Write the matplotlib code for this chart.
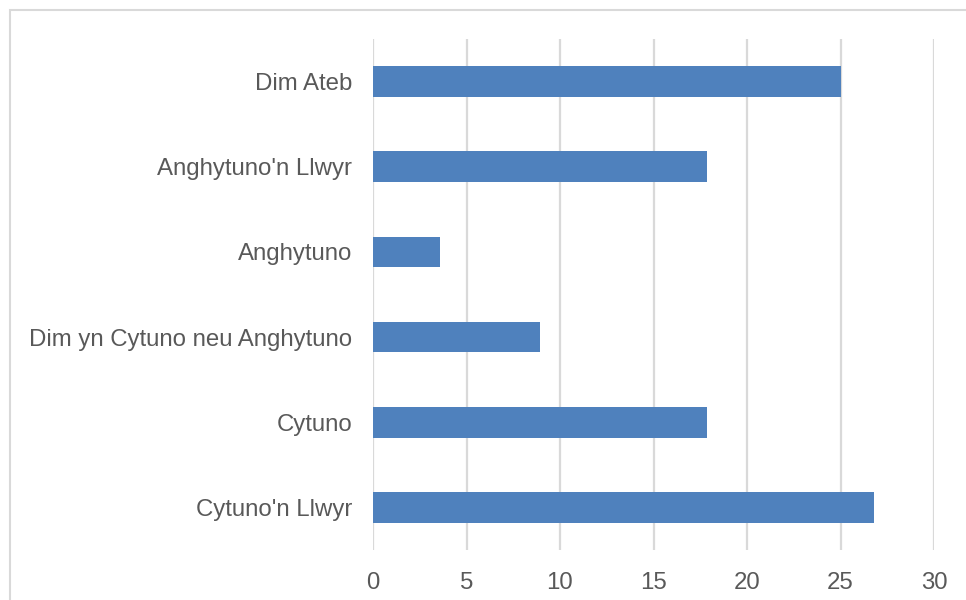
import matplotlib
matplotlib.use('Agg')
import matplotlib.pyplot as plt
from matplotlib.patches import Rectangle

# responses, bottom to top as drawn
categories = [
    "Cytuno'n Llwyr",
    'Cytuno',
    'Dim yn Cytuno neu Anghytuno',
    'Anghytuno',
    "Anghytuno'n Llwyr",
    'Dim Ateb',
]
percent = [26.79, 17.86, 8.93, 3.57, 17.86, 25.0]
x_ticks = [0, 5, 10, 15, 20, 25, 30]

BAR_COLOR = '#4f81bd'
TEXT_COLOR = '#595959'
GRID_COLOR = '#d9d9d9'
FS = 17.3

plt.rcParams.update({
    'font.family': ['Liberation Sans', 'DejaVu Sans'],
    'font.size': FS,
})

W, H = 966, 600
fig = plt.figure(figsize=(W / 100, H / 100), dpi=100, facecolor='white')

# chart area border (runs off the right/bottom edge like the source)
fig.add_artist(Rectangle((9.5 / W, -0.1), 1.2, 1 - 9.5 / H + 0.1,
                         transform=fig.transFigure, fill=False,
                         edgecolor=GRID_COLOR, linewidth=1.5))

ax = fig.add_axes([373 / W, 1 - 550 / H, 561 / W, 511 / H])

ax.barh(range(len(categories)), percent, height=0.36, color=BAR_COLOR, zorder=3)

ax.set_xlim(0, 30)
ax.set_ylim(-0.5, len(categories) - 0.5)
ax.set_xticks(x_ticks)
ax.set_yticks(range(len(categories)))
ax.set_yticklabels(categories)

ax.grid(axis='x', color=GRID_COLOR, linewidth=1.6, zorder=0)
ax.set_axisbelow(True)
for s in ax.spines.values():
    s.set_visible(False)

ax.tick_params(axis='both', length=0, colors=TEXT_COLOR, labelsize=FS)
ax.tick_params(axis='x', pad=15.5)
ax.tick_params(axis='y', pad=15)

fig.savefig('out.png', dpi=100, facecolor='white')
